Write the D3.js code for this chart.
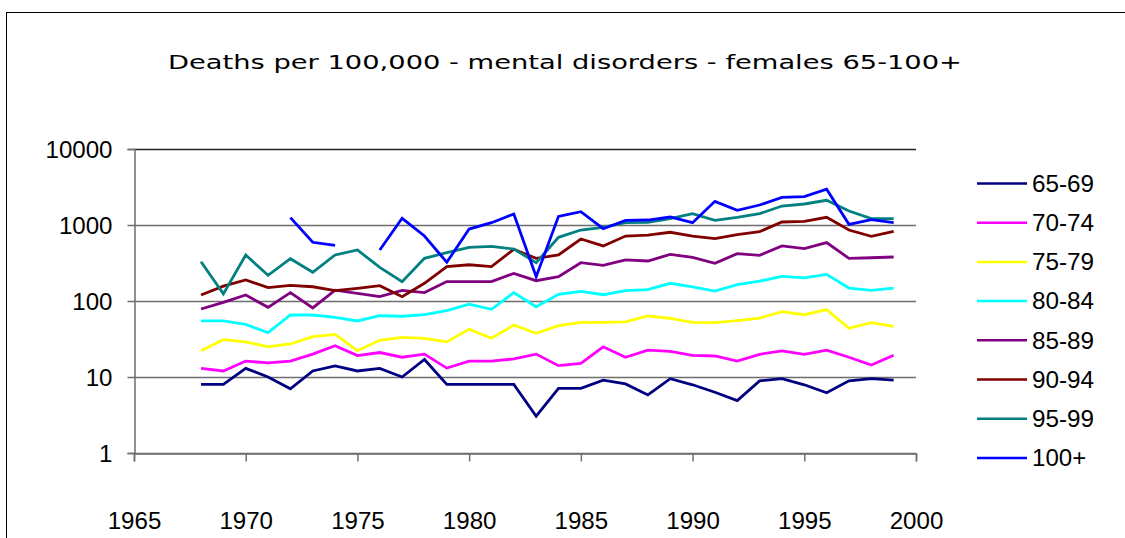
<!DOCTYPE html>
<html>
<head>
<meta charset="utf-8">
<script src="https://cdn.jsdelivr.net/npm/d3@7"></script>
<style>
  body { margin: 0; background: #fff; }
  svg { display: block; }
</style>
</head>
<body>
<svg></svg>
<script>
// years and one list per age group (null = no data that year)
const years = [1968, 1969, 1970, 1971, 1972, 1973, 1974, 1975, 1976, 1977,
  1978, 1979, 1980, 1981, 1982, 1983, 1984, 1985, 1986, 1987,
  1988, 1989, 1990, 1991, 1992, 1993, 1994, 1995, 1996, 1997, 1998, 1999];

const age65_69 = [8, 8, 13, 10, 7, 12, 14, 12, 13, 10,
  17, 8, 8, 8, 8, 3.05, 7.1, 7.1, 9.1, 8.1,
  5.8, 9.5, 7.9, 6.3, 4.9, 8.9, 9.5, 7.9, 6.2, 8.9, 9.5, 9.1];
const age70_74 = [13, 12, 16.2, 15.3, 16.2, 20, 25.8, 19.1, 21, 18.2,
  20, 13.1, 16.2, 16.2, 17.3, 20, 14.1, 15.1, 25, 18.2,
  22.6, 21.8, 19.3, 18.9, 16.2, 19.9, 22, 19.9, 22.6, 18.2, 14.4, 19.3];
const age75_79 = [22.2, 31, 29, 25, 27.2, 34, 36.4, 22.2, 30.4, 33.3,
  32.3, 29, 42.4, 32.3, 48.3, 37.6, 47.3, 52.4, 52.4, 53,
  63.5, 59.2, 52.4, 51.8, 55, 59.7, 72.4, 66, 77, 43.7, 51.8, 46.5];
const age80_84 = [54.6, 54.6, 49.3, 38.3, 65.4, 65.4, 61, 54.6, 64, 63,
  66, 74.6, 91, 77.7, 129, 84, 122.5, 134, 121, 137,
  141, 171, 153, 135, 164, 182, 211, 201, 224, 148, 138, 148];
const age85_89 = [78.5, 96, 120, 82.6, 129, 81, 139, 126, 114, 138,
  129, 180, 180, 180, 231, 185, 209, 319, 295, 347,
  336, 411, 376, 313, 420, 399, 530, 489, 586, 364, 371, 379];
const age90_94 = [120, 157, 189, 150, 161, 154, 137, 147, 159, 114,
  171, 283, 300, 283, 479, 364, 403, 654, 530, 716,
  738, 802, 716, 661, 746, 817, 1095, 1117, 1262, 859, 710, 826];
const age95_99 = [329, 124, 403, 218, 360, 239, 403, 469, 277, 180,
  364, 432, 508, 524, 483, 319, 689, 859, 933, 1072,
  1085, 1211, 1409, 1152, 1262, 1409, 1778, 1890, 2113, 1528, 1211, 1211];
const age100 = [null, null, null, null, 1250, 592, 541, null, 469, 1225,
  716, 323, 885, 1072, 1396, 209, 1300, 1496, 894, 1152,
  1163, 1274, 1072, 2048, 1560, 1833, 2313, 2359, 2950, 1021, 1175, 1072];

const seriesNames = ["65-69", "70-74", "75-79", "80-84", "85-89", "90-94", "95-99", "100+"];
const seriesValues = [age65_69, age70_74, age75_79, age80_84, age85_89, age90_94, age95_99, age100];
const seriesColors = ["#000080", "#ff00ff", "#ffff00", "#00ffff", "#800080", "#800000", "#008080", "#0000ff"];

const yTicks = [1, 10, 100, 1000, 10000];
const xTicks = [1965, 1970, 1975, 1980, 1985, 1990, 1995, 2000];
const title = "Deaths per 100,000 - mental disorders - females 65-100+";

var width = 1125,
  height = 538,
  plot = { left: 134, right: 916, top: 149, bottom: 453 };

// the source picture is stretched sideways, so text gets a fixed width per char
const digitW = 13.4;
function labelWidth(s) {
  var w = 0;
  for (var c of s) w += c == "-" ? 8.5 : c == "+" ? 14 : digitW;
  return w;
}

var svg = d3.select("svg").attr("width", width).attr("height", height);

// outer chart frame
svg
  .append("rect")
  .attr("x", 6.5)
  .attr("y", 12.5)
  .attr("width", width + 20)
  .attr("height", height + 20)
  .attr("fill", "#fff")
  .attr("stroke", "#000")
  .attr("stroke-width", 1);

svg
  .append("text")
  .attr("x", 565)
  .attr("y", 69)
  .attr("text-anchor", "middle")
  .attr("textLength", 794)
  .attr("lengthAdjust", "spacingAndGlyphs")
  .style("font-family", "'DejaVu Sans', Verdana, sans-serif")
  .style("font-size", "19px")
  .attr("fill", "#000")
  .text(title);

var x = d3.scaleLinear().domain([1965, 2000]).range([plot.left, plot.right]);
var y = d3.scaleLog().domain([1, 10000]).range([plot.bottom, plot.top]);

// horizontal gridlines
svg
  .append("g")
  .selectAll("line")
  .data(yTicks)
  .enter()
  .append("line")
  .attr("x1", plot.left)
  .attr("x2", plot.right)
  .attr("y1", (d) => Math.round(y(d)) + 0.5)
  .attr("y2", (d) => Math.round(y(d)) + 0.5)
  .attr("stroke", (d) => (d == 10000 ? "#222" : "#6e6e6e"))
  .attr("stroke-width", 1.5);

// Y axis
var yAxis = svg
  .append("g")
  .attr("transform", "translate(" + (plot.left + 0.5) + ",0)")
  .call(
    d3
      .axisLeft(y)
      .tickValues(yTicks)
      .tickFormat(d3.format("d"))
      .tickSize(7)
      .tickPadding(15)
  );

// X axis
var xAxis = svg
  .append("g")
  .attr("transform", "translate(0," + (plot.bottom + 0.5) + ")")
  .call(
    d3
      .axisBottom(x)
      .tickValues(xTicks)
      .tickFormat(d3.format("d"))
      .tickSize(8)
      .tickPadding(67)
  );

[yAxis, xAxis].forEach((ax) => {
  ax.select(".domain").attr("stroke", "#6e6e6e").attr("stroke-width", 1.5);
  ax.selectAll(".tick line").attr("stroke", "#6e6e6e").attr("stroke-width", 1.5);
  ax.selectAll("text")
    .style("font-family", "'Liberation Sans', Arial, sans-serif")
    .style("font-size", "23px")
    .attr("fill", "#000")
    .attr("textLength", (d) => labelWidth(String(d)))
    .attr("lengthAdjust", "spacingAndGlyphs");
});
yAxis.selectAll("text").attr("dy", "0.36em");
xAxis.selectAll("text").attr("dy", "0em");

// lines
var line = d3
  .line()
  .defined((d) => d != null)
  .x((d, i) => x(years[i]))
  .y((d) => y(d));

svg
  .append("g")
  .selectAll("path")
  .data(seriesValues)
  .enter()
  .append("path")
  .attr("d", (d) => line(d))
  .attr("fill", "none")
  .attr("stroke", (d, i) => seriesColors[i])
  .attr("stroke-width", 2.8)
  .attr("stroke-linejoin", "miter");

// legend
var legend = svg
  .append("g")
  .selectAll("g")
  .data(seriesNames)
  .enter()
  .append("g")
  .attr("transform", (d, i) => "translate(977," + (183.5 + i * 39.2) + ")");

legend
  .append("line")
  .attr("x1", 0)
  .attr("x2", 50)
  .attr("stroke", (d, i) => seriesColors[i])
  .attr("stroke-width", 2.5);

legend
  .append("text")
  .attr("x", 55)
  .attr("dy", "0.36em")
  .attr("textLength", (d) => labelWidth(d))
  .attr("lengthAdjust", "spacingAndGlyphs")
  .style("font-family", "'Liberation Sans', Arial, sans-serif")
  .style("font-size", "23px")
  .attr("fill", "#000")
  .text((d) => d);
</script>
</body>
</html>
